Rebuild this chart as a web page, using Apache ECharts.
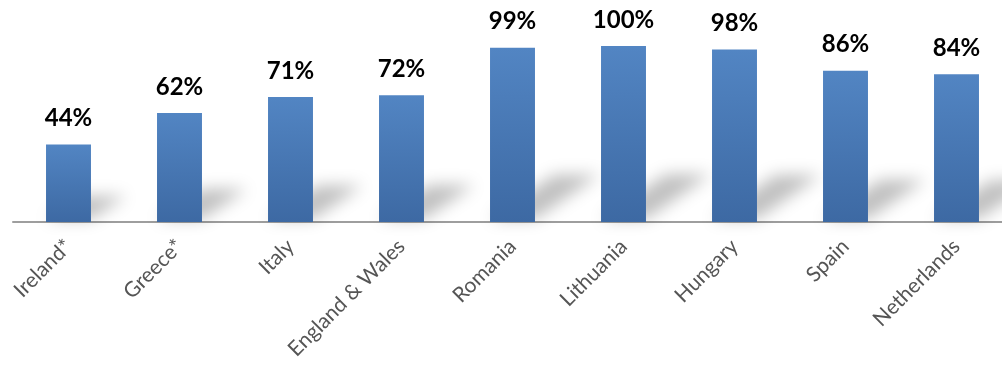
<!DOCTYPE html>
<html>
<head>
<meta charset="utf-8">
<script src="https://cdn.jsdelivr.net/npm/echarts@6/dist/echarts.min.js"></script>
<style>
  html, body { margin: 0; padding: 0; background: #fff; }
  #chart { width: 1002px; height: 372px; }
</style>
</head>
<body>
<div id="chart"></div>
<script>
// Share of respondents per country (percent)
const countries = ['Ireland*', 'Greece*', 'Italy', 'England & Wales', 'Romania', 'Lithuania', 'Hungary', 'Spain', 'Netherlands'];
const shares = [44, 62, 71, 72, 99, 100, 98, 86, 84];

const chart = echarts.init(document.getElementById('chart'));

// Soft floor shadow cast up and to the right of each bar.
// The polygon is drawn far off-canvas and only its blurred shadow is shifted back in.
const OFF = 4000;
function renderShadow(params, api) {
  const idx = api.value(0);
  const val = api.value(1);
  const base = api.coord([idx, 0]);
  const top = api.coord([idx, val]);
  const band = api.size([1, 0])[0];
  const barW = band * 0.405;
  const h = base[1] - top[1];
  const dy = h * 0.22 + 6;
  const dx = h * 0.3 + 12;
  const x0 = base[0] - barW / 2;
  const x1 = base[0] + barW / 2;
  const y = base[1] - 3;
  return {
    type: 'polygon',
    shape: {
      points: [
        [x0 - OFF, y],
        [x1 - OFF, y],
        [x1 + dx - OFF, y - dy],
        [x0 + dx - OFF, y - dy]
      ]
    },
    style: {
      fill: '#000',
      shadowColor: 'rgba(0,0,0,0.25)',
      shadowBlur: 16,
      shadowOffsetX: OFF,
      shadowOffsetY: 0
    },
    silent: true
  };
}

chart.setOption({
  animation: false,
  grid: {
    left: 13, top: 46, width: 999, height: 176,
    containLabel: false,
    outerBoundsMode: 'none'
  },
  xAxis: {
    type: 'category',
    data: countries,
    axisLine: { show: true, lineStyle: { color: '#9e9e9e', width: 2 } },
    axisTick: { show: false },
    axisLabel: {
      rotate: 45,
      margin: 21,
      interval: 0,
      fontFamily: 'Lato, "Open Sans", sans-serif',
      fontSize: 21,
      color: '#555555'
    }
  },
  yAxis: {
    type: 'value',
    min: 0,
    max: 100,
    show: false,
    splitLine: { show: false }
  },
  series: [
    {
      type: 'custom',
      renderItem: renderShadow,
      data: shares.map((v, i) => [i, v]),
      encode: { x: 0, y: 1 },
      z: 1,
      silent: true
    },
    {
      type: 'bar',
      data: shares,
      barWidth: '40.5%',
      z: 3,
      itemStyle: {
        color: new echarts.graphic.LinearGradient(0, 0, 0, 1, [
          { offset: 0, color: '#5285c3' },
          { offset: 1, color: '#3d69a3' }
        ])
      },
      label: {
        show: true,
        position: 'top',
        distance: 14,
        formatter: '{c}%',
        fontFamily: 'Lato, "Open Sans", sans-serif',
        fontWeight: 'bold',
        fontSize: 24,
        color: '#000'
      }
    }
  ]
});
</script>
</body>
</html>
